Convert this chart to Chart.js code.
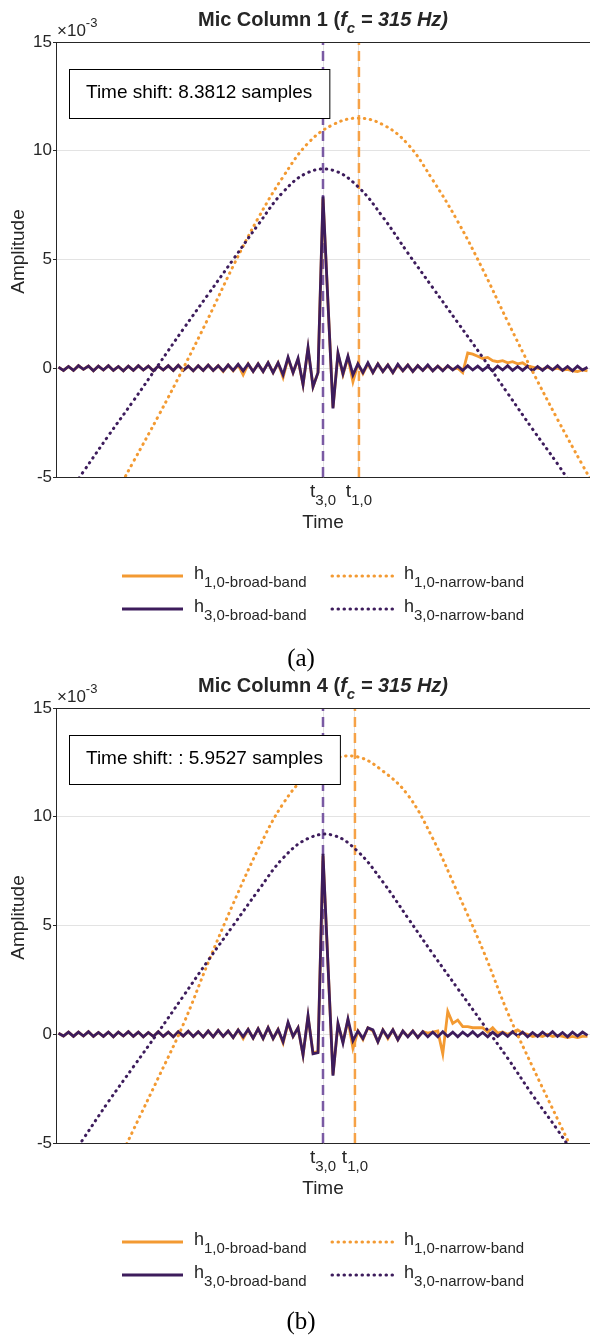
<!DOCTYPE html>
<html>
<head>
<meta charset="utf-8">
<script src="https://cdn.jsdelivr.net/npm/chart.js@4.4.0/dist/chart.umd.min.js"></script>
<style>
  body { margin: 0; background: #fff; }
  .wrap { position: relative; width: 590px; height: 1336px; }
  canvas { position: absolute; left: 0; }
</style>
</head>
<body>
<div class="wrap">
  <canvas id="micCol1" width="590" height="700" style="top:0"></canvas>
  <canvas id="micCol4" width="590" height="670" style="top:666px"></canvas>
</div>
<script>
// broad-band samples (x = sample index), narrow-band read every 5 samples
const sampleIdx = Array.from({ length: 107 }, (_, i) => i);
const nbTime = [0, 5, 10, 15, 20, 25, 30, 35, 40, 45, 50, 55, 60, 65, 70, 75, 80, 85, 90, 95, 100, 105, 110];

// ---- Mic Column 1 (values x 1e-3) ----
const h10BroadA = [
  0.05, -0.1, 0.08, -0.1, 0.12, -0.05, 0.1, -0.12, 0.1, -0.08,
  0.12, -0.1, 0.08, -0.12, 0.1, -0.1, 0.12, -0.08, 0.1, -0.12,
  0.1, -0.08, 0.12, -0.1, 0.14, -0.1, 0.1, -0.12, 0.12, -0.1,
  0.15, -0.1, 0.12, -0.15, 0.15, -0.12, 0.15, -0.3, 0.2, -0.15,
  0.2, -0.15, 0.25, -0.2, 0.25, -0.42, 0.45, -0.2, 0.4, -0.75,
  0.9, -0.85, -0.2, 7.8, 3.0, -1.8, 0.65, -0.3, 0.5, -0.62,
  0.2, -0.25, 0.2, -0.2, 0.2, -0.15, 0.15, -0.2, 0.15, -0.12,
  0.15, -0.15, 0.12, -0.1, 0.12, -0.12, 0.1, -0.1, 0.1, -0.05,
  0.0, -0.2, 0.7, 0.65, 0.55, 0.45, 0.5, 0.35, 0.3, 0.35,
  0.25, 0.3, 0.2, 0.25, 0.1, 0.05, 0.0, -0.05, 0.05, -0.05,
  0.0, -0.08, -0.05, -0.12, -0.15, -0.08, -0.12
];
const h30BroadA = [
  0.05, -0.1, 0.08, -0.1, 0.12, -0.05, 0.1, -0.12, 0.1, -0.08,
  0.12, -0.1, 0.08, -0.12, 0.1, -0.1, 0.12, -0.08, 0.1, -0.12,
  0.1, -0.08, 0.12, -0.1, 0.14, -0.1, 0.1, -0.12, 0.12, -0.1,
  0.15, -0.1, 0.12, -0.12, 0.15, -0.1, 0.18, -0.12, 0.2, -0.15,
  0.2, -0.15, 0.25, -0.2, 0.25, -0.3, 0.5, -0.2, 0.45, -0.75,
  0.95, -0.85, -0.2, 7.9, 3.0, -1.85, 0.7, -0.25, 0.55, -0.3,
  0.2, -0.2, 0.25, -0.2, 0.2, -0.15, 0.15, -0.2, 0.18, -0.12,
  0.15, -0.15, 0.12, -0.1, 0.15, -0.12, 0.1, -0.12, 0.12, -0.08,
  0.1, -0.1, 0.12, -0.08, 0.1, -0.1, 0.08, -0.12, 0.1, -0.08,
  0.12, -0.1, 0.08, -0.1, 0.1, -0.12, 0.08, -0.1, 0.1, -0.08,
  0.12, -0.1, 0.08, -0.12, 0.1, -0.08, 0.05
];
const h10NarrowA = [-10.5, -8.5, -6.4, -4.3, -2.2, 0.0, 2.3, 4.7, 6.9, 8.8, 10.35, 11.2, 11.5, 11.2, 10.3, 8.65, 6.75, 4.55, 2.15, -0.15, -2.35, -4.45, -6.5];
const h30NarrowA = [-6.4, -4.75, -3.1, -1.5, 0.15, 1.8, 3.4, 5.0, 6.6, 8.1, 9.0, 9.1, 8.35, 6.95, 5.3, 3.7, 2.1, 0.5, -1.15, -2.8, -4.4, -6.1, -7.6];

// ---- Mic Column 4 ----
const h10BroadB = [
  0.05, -0.08, 0.1, -0.1, 0.1, -0.08, 0.12, -0.1, 0.08, -0.1,
  0.1, -0.12, 0.1, -0.08, 0.12, -0.1, 0.1, -0.12, 0.08, -0.1,
  0.12, -0.1, 0.1, -0.12, 0.12, -0.08, 0.14, -0.1, 0.12, -0.12,
  0.15, -0.12, 0.18, -0.1, 0.15, -0.15, 0.2, -0.2, 0.22, -0.18,
  0.25, -0.2, 0.3, -0.2, 0.22, -0.4, 0.5, -0.1, 0.3, -0.95,
  0.8, -0.85, -0.8, 8.2, 3.2, -1.85, 0.45, -0.35, 0.65, -0.65,
  0.15, -0.25, 0.3, 0.15, -0.35, 0.2, -0.2, 0.2, -0.25, 0.15,
  -0.1, 0.15, -0.15, 0.12, 0.05, 0.1, 0.15, -0.9, 1.05, 0.5,
  0.65, 0.35, 0.35, 0.3, 0.3, 0.3, 0.1, 0.3, 0.05, 0.1,
  0.0, 0.1, 0.2, 0.05, 0.0, -0.1, -0.05, -0.1, 0.0, -0.1,
  -0.05, -0.1, -0.15, -0.1, -0.15, -0.1, -0.1
];
const h30BroadB = [
  0.05, -0.08, 0.1, -0.1, 0.1, -0.08, 0.12, -0.1, 0.08, -0.1,
  0.1, -0.12, 0.1, -0.08, 0.12, -0.1, 0.1, -0.12, 0.08, -0.1,
  0.12, -0.1, 0.1, -0.12, 0.12, -0.08, 0.14, -0.1, 0.12, -0.12,
  0.15, -0.12, 0.18, -0.1, 0.15, -0.15, 0.2, -0.12, 0.22, -0.18,
  0.25, -0.2, 0.3, -0.2, 0.22, -0.35, 0.55, -0.1, 0.3, -0.95,
  0.85, -0.9, -0.85, 8.3, 3.2, -1.9, 0.5, -0.4, 0.7, -0.3,
  0.15, -0.2, 0.3, 0.2, -0.35, 0.2, -0.15, 0.2, -0.25, 0.15,
  -0.12, 0.15, -0.15, 0.12, -0.12, 0.1, -0.12, 0.12, -0.1, 0.1,
  -0.12, 0.1, -0.08, 0.12, -0.1, 0.08, -0.12, 0.1, -0.1, 0.08,
  -0.1, 0.12, -0.08, 0.1, -0.12, 0.08, -0.1, 0.1, -0.08, 0.12,
  -0.1, 0.08, -0.12, 0.1, -0.08, 0.1, -0.05
];
const h10NarrowB = [-11.5, -9.2, -6.8, -4.4, -2.0, 0.45, 3.3, 6.0, 8.5, 10.6, 11.95, 12.65, 12.75, 12.1, 11.0, 9.0, 6.5, 3.9, 1.0, -1.5, -3.9, -6.3, -8.7];
const h30NarrowB = [-6.5, -4.8, -3.1, -1.5, 0.1, 1.75, 3.4, 5.0, 6.6, 8.1, 9.0, 9.15, 8.4, 7.0, 5.35, 3.7, 2.1, 0.5, -1.1, -2.8, -4.4, -6.1, -7.7];

// arrival times (sample index) marked on the x axis
const t30 = [53, 53];
const t10 = [60.2, 59.4];
const shiftText = ['Time shift: 8.3812 samples', 'Time shift: : 5.9527 samples'];
const columnNo = ['1', '4'];
const captions = ['(a)', '(b)'];
const yTicks = [-5, 0, 5, 10, 15];
const legendSubs = ['1,0-broad-band', '3,0-broad-band', '1,0-narrow-band', '3,0-narrow-band'];

const FONT = "'Liberation Sans', Arial, Helvetica, sans-serif";
const ORANGE = '#F39A32';
const PURPLE = '#3D1C5C';
const AXIS = '#262626';
const PLOT_TOP = 42, PLOT_BOTTOM = 477, PLOT_LEFT = 56;

const pts = (xs, ys) => xs.map((x, i) => ({ x: x, y: ys[i] }));

function subText(ctx, x, y, base, sub, size, subSize, center) {
    ctx.font = size + 'px ' + FONT;
    const w1 = ctx.measureText(base).width;
    ctx.font = subSize + 'px ' + FONT;
    const w2 = ctx.measureText(sub).width;
    const x0 = center ? x - (w1 + w2) / 2 : x;
    ctx.textAlign = 'left';
    ctx.font = size + 'px ' + FONT;
    ctx.fillText(base, x0, y);
    ctx.font = subSize + 'px ' + FONT;
    ctx.fillText(sub, x0 + w1, y + size * 0.42);
}

const decor = {
    id: 'decor',
    afterDraw(chart, args, o) {
        const { ctx, chartArea: a } = chart;
        const xs = chart.scales.x;
        ctx.save();
        ctx.fillStyle = AXIS;
        ctx.strokeStyle = AXIS;
        ctx.lineWidth = 1;
        ctx.textBaseline = 'alphabetic';

        // top edge of the axes box
        ctx.beginPath();
        ctx.moveTo(a.left, a.top + 0.5);
        ctx.lineTo(a.right, a.top + 0.5);
        ctx.stroke();

        // exponent
        ctx.textAlign = 'left';
        ctx.font = '17px ' + FONT;
        ctx.fillText('\u00D710', 57, 36);
        const ew = ctx.measureText('\u00D710').width;
        ctx.font = '13px ' + FONT;
        ctx.fillText('-3', 57 + ew, 27);

        // title
        const mid = (a.left + a.right) / 2;
        const p1 = 'Mic Column ' + o.col + ' (', p2 = 'f', p3 = 'c', p4 = ' = 315 Hz)';
        ctx.font = 'bold 20px ' + FONT;
        const w1 = ctx.measureText(p1).width;
        ctx.font = 'italic bold 20px ' + FONT;
        const w2 = ctx.measureText(p2).width, w4 = ctx.measureText(p4).width;
        ctx.font = 'italic bold 15px ' + FONT;
        const w3 = ctx.measureText(p3).width;
        let tx = mid - (w1 + w2 + w3 + w4) / 2;
        ctx.font = 'bold 20px ' + FONT;
        ctx.fillText(p1, tx, 26); tx += w1;
        ctx.font = 'italic bold 20px ' + FONT;
        ctx.fillText(p2, tx, 26); tx += w2;
        ctx.font = 'italic bold 15px ' + FONT;
        ctx.fillText(p3, tx, 33); tx += w3;
        ctx.font = 'italic bold 20px ' + FONT;
        ctx.fillText(p4, tx, 26);

        // time shift box
        ctx.font = '19px ' + FONT;
        const bw = ctx.measureText(o.shift).width + 34;
        ctx.fillStyle = '#fff';
        ctx.fillRect(69.5, a.top + 27.5, bw, 49);
        ctx.strokeStyle = '#000';
        ctx.strokeRect(69.5, a.top + 27.5, bw, 49);
        ctx.fillStyle = '#000';
        ctx.fillText(o.shift, 86, a.top + 56);

        // x tick labels at the arrival times
        ctx.fillStyle = AXIS;
        subText(ctx, xs.getPixelForValue(o.t30), 497, 't', '3,0', 19, 15, true);
        subText(ctx, xs.getPixelForValue(o.t10), 497, 't', '1,0', 19, 15, true);

        // axis titles
        ctx.textAlign = 'center';
        ctx.font = '19px ' + FONT;
        ctx.fillText('Time', mid, 528);
        ctx.save();
        ctx.translate(24, (a.top + a.bottom) / 2 - 8);
        ctx.rotate(-Math.PI / 2);
        ctx.fillText('Amplitude', 0, 0);
        ctx.restore();

        // legend, two columns
        const cols = [122, 332], rows = [576, 609];
        [0, 1, 2, 3].forEach((di, k) => {
            const ds = chart.data.datasets[di];
            const lx = cols[Math.floor(k / 2)], ly = rows[k % 2];
            ctx.save();
            ctx.strokeStyle = ds.borderColor;
            ctx.lineWidth = ds.borderWidth;
            ctx.lineCap = ds.borderCapStyle || 'butt';
            ctx.setLineDash(ds.borderDash || []);
            ctx.beginPath();
            ctx.moveTo(lx, ly);
            ctx.lineTo(lx + 61, ly);
            ctx.stroke();
            ctx.restore();
            ctx.fillStyle = AXIS;
            subText(ctx, lx + 72, ly + 3, 'h', legendSubs[di], 18, 15, false);
        });

        // panel caption
        ctx.textAlign = 'center';
        ctx.fillStyle = '#000';
        ctx.font = '25px "Liberation Serif", "DejaVu Serif", serif';
        ctx.fillText(o.caption, 301, o.capY);
        ctx.restore();
    }
};

function makeChart(id, k, broad10, broad30, narrow10, narrow30, capY) {
    const ctx = document.getElementById(id).getContext('2d');
    return new Chart(ctx, {
        type: 'line',
        data: {
            datasets: [
                { data: pts(sampleIdx, broad10), borderColor: ORANGE, borderWidth: 2.8, tension: 0, order: 4 },
                { data: pts(sampleIdx, broad30), borderColor: PURPLE, borderWidth: 2.8, tension: 0, order: 3 },
                { data: pts(nbTime, narrow10), borderColor: ORANGE, borderWidth: 3, borderDash: [0.5, 5.5], borderCapStyle: 'round', tension: 0.4, order: 2 },
                { data: pts(nbTime, narrow30), borderColor: PURPLE, borderWidth: 3, borderDash: [0.5, 5.5], borderCapStyle: 'round', tension: 0.4, order: 1 },
                { data: [{ x: t30[k], y: -5 }, { x: t30[k], y: 15 }], borderColor: '#7A5AA3', borderWidth: 2.5, borderDash: [10, 6], order: 6 },
                { data: [{ x: t10[k], y: -5 }, { x: t10[k], y: 15 }], borderColor: '#F6A247', borderWidth: 2.5, borderDash: [10, 6], order: 6 }
            ]
        },
        options: {
            responsive: false,
            animation: false,
            layout: { padding: { top: PLOT_TOP, left: 0, right: 0, bottom: 0 } },
            elements: { point: { radius: 0 } },
            scales: {
                x: {
                    type: 'linear',
                    min: -0.5,
                    max: 106.5,
                    afterBuildTicks: s => { s.ticks = [{ value: t30[k] }, { value: t10[k] }]; },
                    afterFit: s => { s.height = s.chart.height - PLOT_BOTTOM; },
                    ticks: { display: false },
                    grid: { color: '#e3e3e3', drawTicks: false },
                    border: { color: AXIS, width: 1 }
                },
                y: {
                    min: -5,
                    max: 15,
                    afterBuildTicks: s => { s.ticks = yTicks.map(v => ({ value: v })); },
                    afterFit: s => { s.width = PLOT_LEFT; },
                    ticks: { color: AXIS, font: { family: FONT, size: 17 }, padding: 1 },
                    grid: { color: '#e3e3e3', tickColor: AXIS, tickLength: 3 },
                    border: { color: AXIS, width: 1 }
                }
            },
            plugins: {
                legend: { display: false },
                tooltip: { enabled: false },
                decor: { col: columnNo[k], shift: shiftText[k], t30: t30[k], t10: t10[k], caption: captions[k], capY: capY }
            }
        },
        plugins: [decor]
    });
}

makeChart('micCol1', 0, h10BroadA, h30BroadA, h10NarrowA, h30NarrowA, 666);
makeChart('micCol4', 1, h10BroadB, h30BroadB, h10NarrowB, h30NarrowB, 663);
</script>
</body>
</html>
